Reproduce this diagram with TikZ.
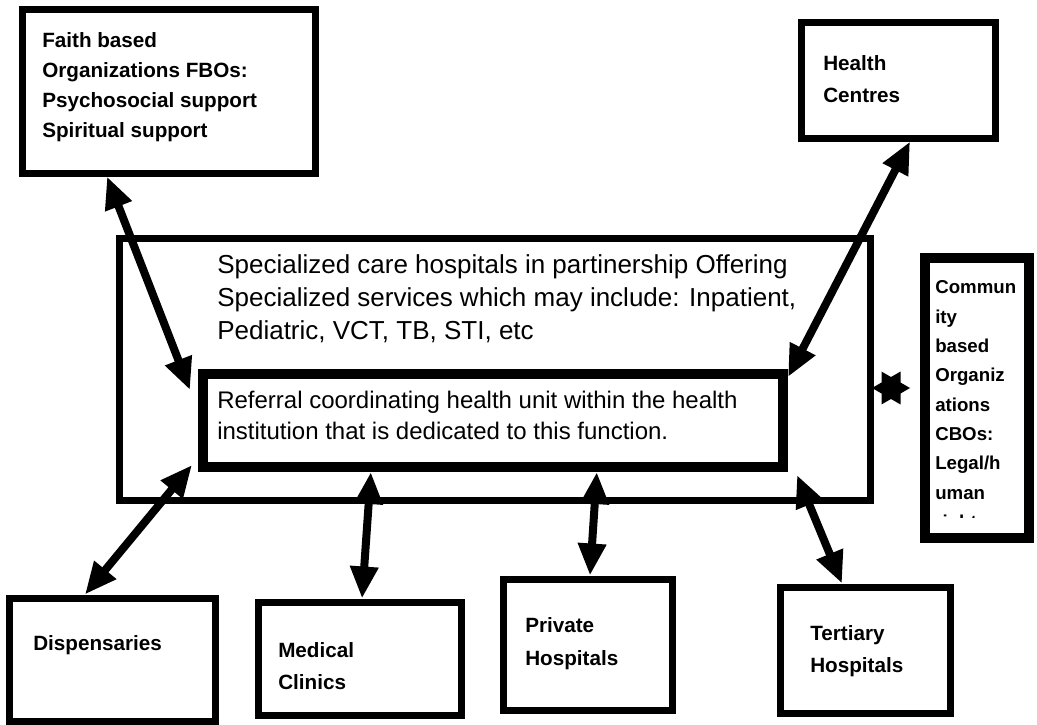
\documentclass[tikz,border=0pt]{standalone}
\usepackage{fontspec}
\setmainfont{Liberation Sans}
\usetikzlibrary{arrows.meta,calc,fit,shapes.geometric}
\begin{document}
\begin{tikzpicture}[x=0.75pt,y=-0.75pt,
  box/.style={draw=black,line width=5.25pt,inner sep=0pt},
  heavybox/.style={box,line width=7.5pt},
  biarrow/.style={line width=6pt,{Triangle[length=24pt,width=20pt]}-{Triangle[length=24pt,width=20pt]}},
  boxlabel/.style={anchor=north west,inner sep=0pt,align=left},
  bold155/.style={boxlabel,font=\bfseries\fontsize{15.5}{22.5}\selectfont},
]
\useasboundingbox (0,0) rectangle (1037,724);

% ---- boxes ----
\node[box,fit={(22,10) (315,173)}] (fbo) {};
\node[box,fit={(801,23) (995,138)}] (health) {};
\node[box,fit={(119,238) (870,500)}] (outer) {};
\node[heavybox,fit={(203,374) (783,467)}] (inner) {};
\node[heavybox,fit={(925,258) (1029,538)}] (cbo) {};
\node[box,fit={(9,598) (215,721)}] (disp) {};
\node[box,fit={(258,602) (461,715)}] (clinic) {};
\node[box,fit={(503,579) (672,710)}] (private) {};
\node[box,fit={(780,587) (950,713)}] (tertiary) {};

% ---- texts ----
\node[bold155] (fboText) at (42,32)
  {Faith based\\Organizations FBOs:\\Psychosocial support\\Spiritual support};
\node[boxlabel,font=\bfseries\fontsize{15.5}{24}\selectfont] (healthText) at (823,55)
  {Health\\Centres};
\node[boxlabel,font=\fontsize{19.5}{24.75}\selectfont] (outerText) at (217,254)
  {Specialized care hospitals in partinership Offering\\
   Specialized services which may include: Inpatient,\\
   Pediatric, VCT, TB, STI, etc};
\node[boxlabel,font=\fontsize{18}{23.25}\selectfont] (innerText) at (217,390.5)
  {Referral coordinating health unit within the health\\
   institution that is dedicated to this function.};
% the CBO text frame cuts its last line short
\begin{scope}
  \clip (930,263) rectangle (1024,517.5);
  \node[boxlabel,font=\bfseries\fontsize{14}{22}\selectfont] (cboText) at (935,280.5)
    {Commun\\ity\\based\\Organiz\\ations\\CBOs:\\Legal/h\\uman\\rights};
\end{scope}
\node[bold155] (dispText) at (33,635) {Dispensaries};
\node[boxlabel,font=\bfseries\fontsize{15.5}{24}\selectfont] (clinicText) at (278,642)
  {Medical\\Clinics};
\node[boxlabel,font=\bfseries\fontsize{15.5}{24.75}\selectfont] (privateText) at (525,617)
  {Private\\Hospitals};
\node[boxlabel,font=\bfseries\fontsize{15.5}{24}\selectfont] (tertiaryText) at (810,625)
  {Tertiary\\Hospitals};

% ---- six-pointed star beside the CBO box ----
\node[star,star points=6,star point ratio=1.73,fill=black,inner sep=0pt,
      minimum size=28.5pt,shape border rotate=90] (sixstar) at (891,388) {};

% ---- two-way links ----
\draw[biarrow] ($(fbo.south west)!0.295!(fbo.south east)$) -- ($(inner.north west)+(-8,21)$);
\draw[biarrow] ($(health.south west)!0.56!(health.south east)$) -- ($(inner.north east)+(0,8)$);
\draw[biarrow] ($(disp.north west)!0.373!(disp.north east)$) -- ($(inner.south west)+(-6,-7)$);
\draw[biarrow] ($(clinic.north west)!0.512!(clinic.north east)$) -- ($(inner.south west)!0.293!(inner.south east)$);
\draw[biarrow] ($(private.north west)!0.514!(private.north east)$) -- ($(inner.south west)!0.676!(inner.south east)$);
\draw[biarrow] ($(tertiary.north west)!0.37!(tertiary.north east)$) -- ($(inner.south east)+(9,3)$);
\end{tikzpicture}
\end{document}
